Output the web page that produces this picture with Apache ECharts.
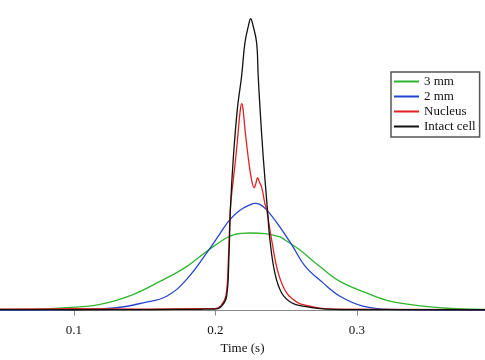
<!DOCTYPE html>
<html>
<head>
<meta charset="utf-8">
<script src="https://cdn.jsdelivr.net/npm/echarts@6/dist/echarts.min.js"></script>
<style>
html,body{margin:0;padding:0;background:#fff;}
#chart{width:485px;height:360px;}
</style>
</head>
<body>
<div id="chart"></div>
<script>
// Names
var seriesNames = ['3 mm', '2 mm', 'Nucleus', 'Intact cell'];
var xTickValues = [0.1, 0.2, 0.3];

// 3 mm (green)
var t3mm = [0.0477, 0.0710, 0.0948, 0.1184, 0.1417, 0.1608, 0.1796, 0.1982, 0.2138, 0.2244, 0.2350, 0.2456, 0.2491, 0.2597, 0.2738, 0.2880, 0.3068, 0.3233, 0.3466, 0.3705, 0.3905];
var v3mm = [1.2, 1.2, 2.8, 6.2, 16.2, 29.5, 44.5, 64.5, 77.0, 78.5, 77.8, 74.5, 71.5, 61.2, 44.5, 29.5, 17.8, 9.5, 4.5, 1.8, 1.2];

// 2 mm (blue)
var t2mm = [0.0477, 0.1064, 0.1302, 0.1488, 0.1655, 0.1796, 0.1961, 0.2032, 0.2102, 0.2173, 0.2244, 0.2279, 0.2314, 0.2362, 0.2456, 0.2548, 0.2633, 0.2760, 0.2880, 0.3042, 0.3233, 0.3905];
var v2mm = [0.5, 1.2, 2.8, 7.8, 14.5, 31.5, 63, 78, 92, 101.5, 107, 108.5, 107.5, 102, 84.5, 64.5, 45, 28, 14.5, 4.5, 1.2, 0.5];

// Nucleus (red)
var tNuc = [0.0477, 0.1000, 0.1500, 0.1900, 0.1996, 0.2039, 0.2074, 0.2092, 0.2106, 0.2124, 0.2143, 0.2163, 0.2173, 0.2185, 0.2194, 0.2208, 0.2232, 0.2256, 0.2274, 0.2286, 0.2298, 0.2311, 0.2327, 0.2350, 0.2362, 0.2397, 0.2444, 0.2503, 0.2583, 0.2633, 0.2738, 0.2880, 0.3905];
var vNuc = [1.5, 1.8, 1.5, 1.8, 2, 5, 15, 55, 104.5, 130, 154.5, 185, 200, 209.5, 205, 184.5, 154.5, 131.5, 124.5, 129, 134.5, 130, 124.5, 107.8, 102, 71.5, 37.8, 17.8, 7.8, 5.5, 2.5, 1.5, 1];

// Intact cell (black)
var tCell = [0.0477, 0.1000, 0.1537, 0.1890, 0.1961, 0.1996, 0.2044, 0.2079, 0.2095, 0.2106, 0.2126, 0.2155, 0.2185, 0.2208, 0.2232, 0.2249, 0.2267, 0.2291, 0.2302, 0.2315, 0.2338, 0.2366, 0.2385, 0.2420, 0.2468, 0.2538, 0.2618, 0.2738, 0.2950, 0.3905];
var vCell = [1, 0.8, 1, 1.2, 1.5, 1.5, 4.5, 14.5, 54.5, 104.5, 154.5, 204.5, 237.8, 271, 287.8, 295.5, 287.8, 271, 237.8, 204.5, 154.5, 104.5, 71.5, 37.8, 17.8, 7.8, 4.5, 2, 1, 0.8];

function zip(t, v) { return t.map(function (x, i) { return [x, v[i]]; }); }

var colors = ['#2fb52f', '#2545d0', '#e02222', '#111111'];
var times = [t3mm, t2mm, tNuc, tCell];
var vals = [v3mm, v2mm, vNuc, vCell];

var font = '"Liberation Serif", "Times New Roman", serif';

var series = seriesNames.map(function (name, i) {
  return {
    name: name,
    type: 'line',
    data: zip(times[i], vals[i]),
    showSymbol: false,
    smooth: 0.4,
    lineStyle: { color: colors[i], width: 1.3 },
    itemStyle: { color: colors[i] },
    animation: false
  };
});

var chart = echarts.init(document.getElementById('chart'), null, { renderer: 'canvas' });
chart.setOption({
  animation: false,
  backgroundColor: '#ffffff',
  grid: { left: 0, right: 0, top: 0, bottom: 44, containLabel: false },
  xAxis: {
    type: 'value',
    min: 0.0477,
    max: 0.3905,
    name: 'Time (s)',
    nameLocation: 'middle',
    nameGap: 30,
    nameTextStyle: { fontFamily: font, fontSize: 13, color: '#111' },
    axisLine: { show: true, lineStyle: { color: '#888', width: 1 } },
    axisTick: { show: true, length: 5, inside: false, customValues: xTickValues, lineStyle: { color: '#888' } },
    axisLabel: { show: true, margin: 12, customValues: xTickValues, fontFamily: font, fontSize: 13, color: '#111',
      formatter: function (v) { return v.toFixed(1); } },
    splitLine: { show: false }
  },
  yAxis: {
    type: 'value',
    min: -1.5,
    max: 314.5,
    show: false,
    splitLine: { show: false }
  },
  legend: {
    data: seriesNames,
    orient: 'vertical',
    left: 391,
    top: 72,
    padding: [2, 4, 3, 3],
    itemWidth: 25,
    itemHeight: 2,
    itemGap: 0,
    icon: 'rect',
    borderColor: '#555',
    borderWidth: 1.5,
    backgroundColor: '#fff',
    textStyle: { fontFamily: font, fontSize: 13, color: '#111', lineHeight: 15 },
    selectedMode: false
  },
  series: series
});
</script>
</body>
</html>
